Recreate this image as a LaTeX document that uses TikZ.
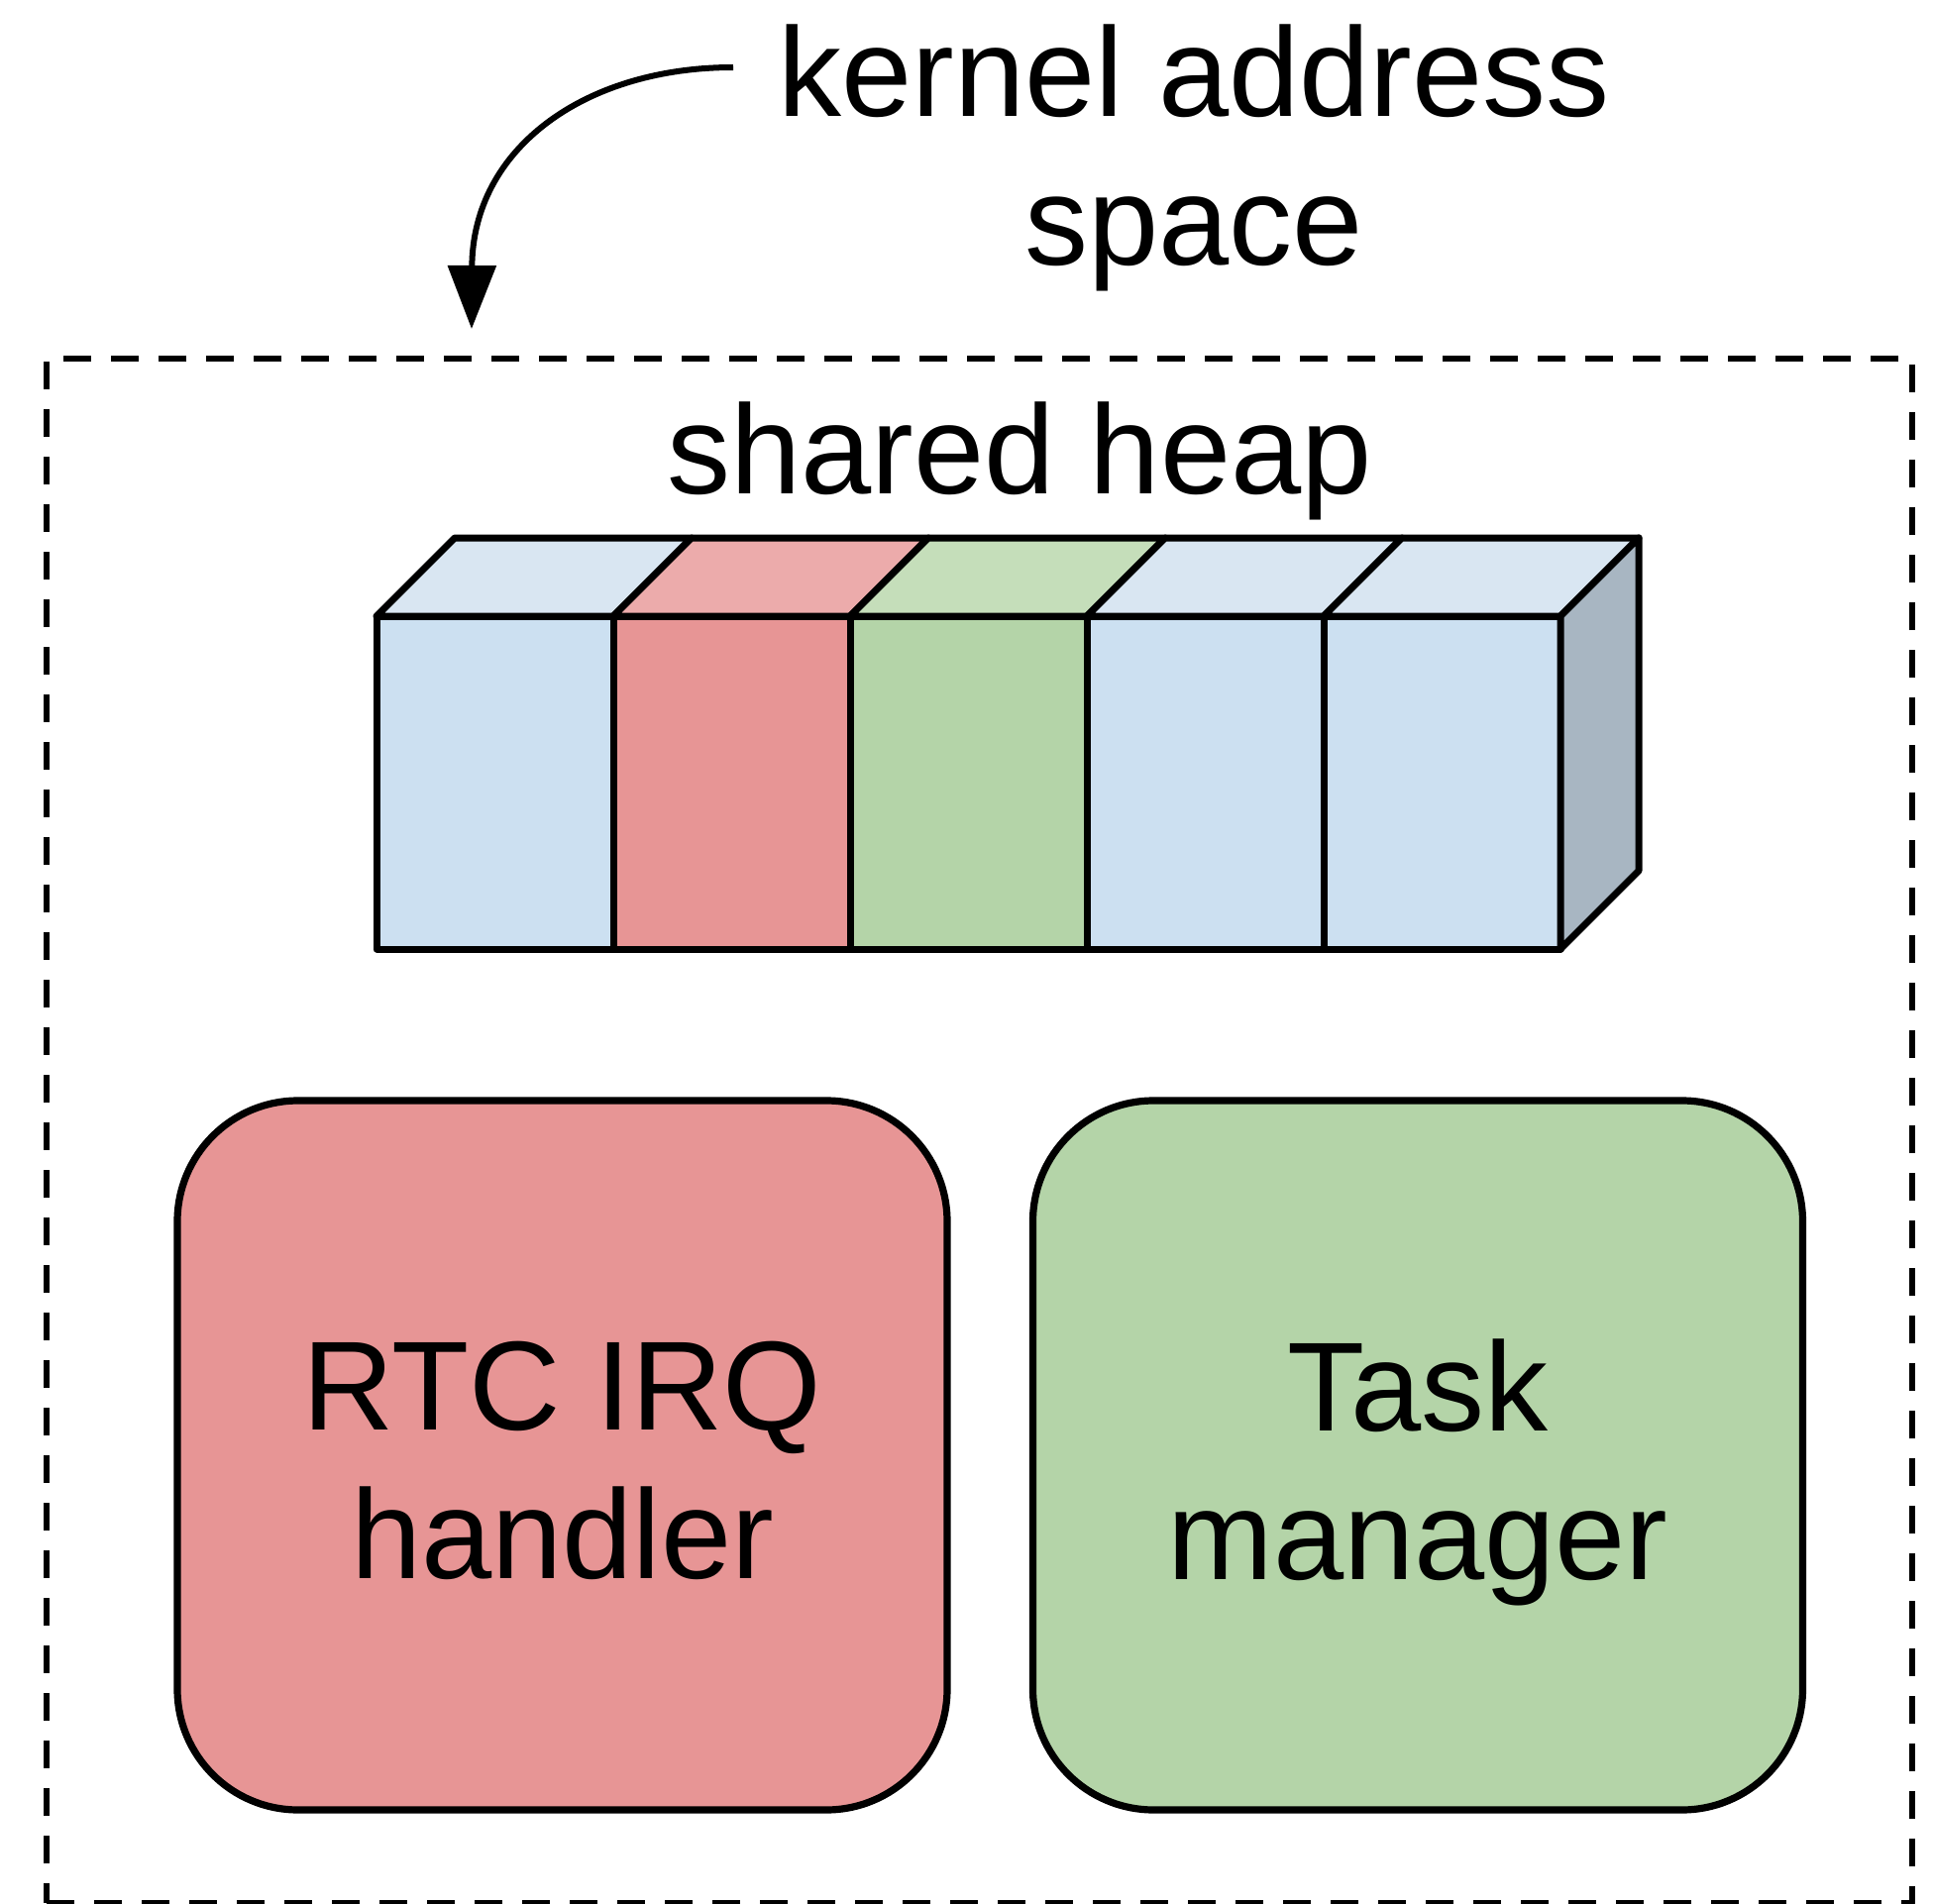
\documentclass[tikz,border=0pt]{standalone}
\usepackage{fontspec}
\setmainfont{Liberation Sans}
\usetikzlibrary{arrows.meta}

\definecolor{heapblue}{HTML}{CCE0F1}
\definecolor{heapbluetop}{HTML}{D9E6F2}
\definecolor{heapred}{HTML}{E79595}
\definecolor{heapredtop}{HTML}{ECABAB}
\definecolor{heapgreen}{HTML}{B4D4A8}
\definecolor{heapgreentop}{HTML}{C5DEBA}
\definecolor{heapside}{HTML}{A8B6C2}

\newcommand{\firstline}{\rule{0pt}{50.5pt}}

\begin{document}
\begin{tikzpicture}[x=0.5pt,y=-0.5pt, line join=round,
  bigtext/.style={font=\fontsize{64}{75}\selectfont, align=center, inner sep=0pt},
  edge/.style={draw=black, line width=3.5pt},
  taskbox/.style={draw=black, line width=3.6pt, rounded corners=61pt,
    minimum width=388.5pt, minimum height=358pt, inner sep=0pt,
    font=\fontsize{64}{75}\selectfont, align=center},
  regionbox/.style={draw=black, line width=3.4pt, dash pattern=on 14pt off 10pt,
    minimum width=941.5pt, minimum height=779.5pt, inner sep=0pt},
  pointer/.style={line width=3pt, -{Triangle[length=32pt,width=24pt]}}
]
\useasboundingbox (0,0) rectangle (1951,1922);

% kernel address space region
\node[regionbox] (kspace) at (988.5,1141.5) {};

% labels
\node[bigtext] (klabel) at (1205,159) {kernel address\\space};
\node[bigtext] (heaplabel) at (1029,465) {shared heap};

% shared heap drawn as a row of 3D blocks
\foreach \i/\c/\t in {0/heapblue/heapbluetop, 1/heapred/heapredtop,
                       2/heapgreen/heapgreentop, 3/heapblue/heapbluetop,
                       4/heapblue/heapbluetop} {
  \pgfmathsetmacro\xa{380+239*\i}
  \pgfmathsetmacro\xb{\xa+239}
  \filldraw[edge, fill=\c] (\xa,622) rectangle (\xb,958);
  \filldraw[edge, fill=\t] (\xa,622) -- (\xa+79,543) -- (\xb+79,543) -- (\xb,622) -- cycle;
}
\filldraw[edge, fill=heapside] (1575,622) -- (1654,543) -- (1654,879) -- (1575,958) -- cycle;

% components
\node[taskbox, fill=heapred] (rtc) at (567.5,1469) {\firstline RTC IRQ\\handler};
\node[taskbox, fill=heapgreen] (task) at (1431,1469) {\firstline Task\\\smash{manager}};

% pointer from the label to the region
\coordinate (arrowstart) at (740,68);
\coordinate (arrowend) at (476,332);
\draw[pointer] (arrowstart) .. controls (590,68) and (477,150) .. (arrowend);
\end{tikzpicture}
\end{document}
